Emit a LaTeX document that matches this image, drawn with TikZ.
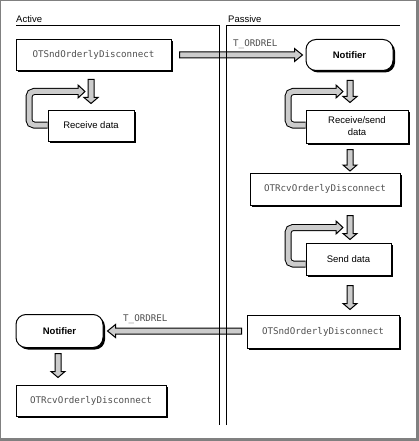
\documentclass[tikz,border=0pt]{standalone}
\usepackage{fontspec}
\setmainfont{Liberation Sans}
\setmonofont{DejaVu Sans Mono}
\usetikzlibrary{calc,shadows}

\definecolor{framegray}{RGB}{128,128,128}
\definecolor{arrowgray}{RGB}{204,204,204}
\definecolor{codegray}{RGB}{80,80,80}

\pgfdeclarelayer{frame}
\pgfdeclarelayer{arrows}
\pgfsetlayers{frame,arrows,main}

% block arrow pointing down: column, from node, gap, to node, gap
\newcommand{\downblk}[5]{%
  \draw[blk] let \p1=(#1), \p2=(#2.south), \p3=(#4.north) in
    (\x1-3pt,\y2-#3pt) -- (\x1-3pt,\y3+#5pt+6pt) -- (\x1-7pt,\y3+#5pt+6pt)
    -- (\x1,\y3+#5pt) -- (\x1+7pt,\y3+#5pt+6pt) -- (\x1+3pt,\y3+#5pt+6pt)
    -- (\x1+3pt,\y2-#3pt) -- cycle;}
% block arrow pointing right: row, from node, gap, to node, gap
\newcommand{\rightblk}[5]{%
  \draw[blk] let \p1=(#1), \p2=(#2.east), \p3=(#4.west) in
    (\x2+#3pt,\y1+3pt) -- (\x3-#5pt-8pt,\y1+3pt) -- (\x3-#5pt-8pt,\y1+6.5pt)
    -- (\x3-#5pt,\y1) -- (\x3-#5pt-8pt,\y1-6.5pt) -- (\x3-#5pt-8pt,\y1-3pt)
    -- (\x2+#3pt,\y1-3pt) -- cycle;}
% block arrow pointing left: row, from node, gap, to node, gap
\newcommand{\leftblk}[5]{%
  \draw[blk] let \p1=(#1), \p2=(#2.west), \p3=(#4.east) in
    (\x2-#3pt,\y1+3pt) -- (\x3+#5pt+8pt,\y1+3pt) -- (\x3+#5pt+8pt,\y1+6.5pt)
    -- (\x3+#5pt,\y1) -- (\x3+#5pt+8pt,\y1-6.5pt) -- (\x3+#5pt+8pt,\y1-3pt)
    -- (\x2-#3pt,\y1-3pt) -- cycle;}
% looping block arrow: start, head tip, leftward reach
\newcommand{\loopblk}[3]{%
  \draw[bandout] let \p1=(#1), \p2=(#2) in
    (\p1) -- (\x1-#3pt,\y1) -- (\x1-#3pt,\y2) -- (\x2-7pt,\y2);
  \filldraw[blk] (#2) -- ++(-7,6.5) -- ++(0,-13) -- cycle;
  \draw[bandin] let \p1=(#1), \p2=(#2) in
    (\p1) -- (\x1-#3pt,\y1) -- (\x1-#3pt,\y2) -- (\x2-6pt,\y2);}

\begin{document}
\begin{tikzpicture}[x=1pt,y=-1pt,
  box/.style={draw, fill=white, line width=1pt, inner sep=0pt,
    font=\fontsize{9.5}{12}\selectfont,
    drop shadow={shadow xshift=2pt, shadow yshift=-2pt, opacity=1, fill=black}},
  call/.style={box, font=\ttfamily\fontsize{9.2}{11}\selectfont, text=codegray},
  notifier/.style={box, rounded corners=10pt, font=\bfseries\fontsize{9.5}{12}\selectfont},
  lanelabel/.style={anchor=west, inner sep=0pt, font=\fontsize{9.5}{12}\selectfont},
  msg/.style={anchor=west, inner sep=0pt, font=\ttfamily\fontsize{9.2}{11}\selectfont, text=codegray},
  blk/.style={draw, fill=arrowgray, line width=1pt, line join=miter},
  bandout/.style={draw=black, line width=7pt, rounded corners=5pt},
  bandin/.style={draw=arrowgray, line width=5pt, rounded corners=5pt},
  lane/.style={draw, line width=1pt}]

\useasboundingbox (0,0) rectangle (419,441);

% frame
\begin{pgfonlayer}{frame}
  \fill[framegray] (0,0) rectangle (419,441);
  \fill[white] (1,1) rectangle (416,438);
\end{pgfonlayer}

% swim lanes
\path[lane] (16,26) -- (219,26) -- (219,425);
\path[lane] (226,425) -- (226,26) -- (400,26);
\node[lanelabel] (active) at (16,19.5) {Active};
\node[lanelabel] (passive) at (228,19.5) {Passive};

% reference rows and columns
\coordinate (row1) at (0,55);
\coordinate (row2) at (0,331);
\coordinate (colA) at (91,0);
\coordinate (colA2) at (58,0);
\coordinate (colP) at (350,0);

% active side
\node[call, minimum width=155pt, minimum height=31pt] (sndA) at (93.5,55) {OTSndOrderlyDisconnect};
\node[box, minimum width=86pt, minimum height=31pt] (recvA) at (91,125.5) {Receive data};
\node[notifier, minimum width=87pt, minimum height=33pt] (notA2) at (59.5,331) {Notifier};
\node[call, minimum width=150pt, minimum height=31pt] (rcvA2) at (91,400.5) {OTRcvOrderlyDisconnect};

% passive side
\node[notifier, minimum width=87pt, minimum height=31pt] (notP) at (349.5,55) {Notifier};
\node[box, minimum width=102pt, minimum height=33pt, align=center] (rsP) at (357,126.5) {Receive/send\\data};
\node[call, minimum width=150pt, minimum height=32pt] (rcvP) at (325,189) {OTRcvOrderlyDisconnect};
\node[box, minimum width=85pt, minimum height=32pt] (sendP) at (348.5,259) {Send data};
\node[call, minimum width=152pt, minimum height=33pt] (sndP2) at (323,331.5) {OTSndOrderlyDisconnect};

% message labels
\node[msg] (ordrel1) at (233,44) {T\_ORDREL};
\node[msg] (ordrel2) at (123,319) {T\_ORDREL};

% loop start and head points
\coordinate (lA0) at ($(recvA.west)+(0,-0.5)$);
\coordinate (lA1) at (85,91.5);
\coordinate (lP0) at ($(rsP.west)+(0,-1.5)$);
\coordinate (lP1) at (343,91.5);
\coordinate (lQ0) at ($(sendP.west)+(0,5)$);
\coordinate (lQ1) at (343,227.5);

\begin{pgfonlayer}{arrows}
  \rightblk{row1}{sndA}{8}{notP}{3}
  \leftblk{row2}{sndP2}{5}{notA2}{4}
  \downblk{colA}{sndA}{8.5}{recvA}{6}
  \downblk{colP}{notP}{9.5}{rsP}{7}
  \downblk{colP}{rsP}{6}{rcvP}{1.5}
  \downblk{colP}{rcvP}{10}{sendP}{3}
  \downblk{colP}{sendP}{10}{sndP2}{5}
  \downblk{colA2}{notA2}{5.5}{rcvA2}{7}
  \loopblk{lA0}{lA1}{18.5}
  \loopblk{lP0}{lP1}{17.5}
  \loopblk{lQ0}{lQ1}{17.5}
\end{pgfonlayer}
\end{tikzpicture}
\end{document}
